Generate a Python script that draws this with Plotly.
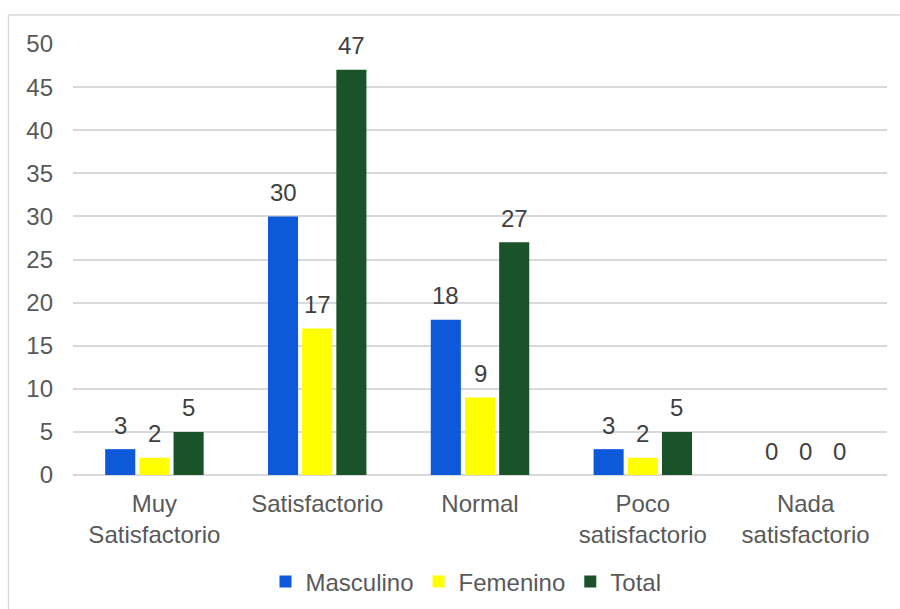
import plotly.graph_objects as go

categories = ["Muy<br>Satisfactorio", "Satisfactorio", "Normal", "Poco<br>satisfactorio", "Nada<br>satisfactorio"]
masculino = [3, 30, 18, 3, 0]
femenino = [2, 17, 9, 2, 0]
total = [5, 47, 27, 5, 0]
y_ticks = [0, 5, 10, 15, 20, 25, 30, 35, 40, 45, 50]

series = [("Masculino", masculino, "#0E58DA"), ("Femenino", femenino, "#FFFF00"), ("Total", total, "#1A5329")]

FONT = "Liberation Sans, Arial, sans-serif"
FS = 24
W, H = 900, 609
L, R, T, B = 73, 13, 44, 134
pw, ph = W - L - R, H - T - B
BARGAP, GROUPGAP = 0.37, 0.12

def px(x):
    return (x - L) / pw

def py(y):
    return (H - B - y) / ph

fig = go.Figure()
annotations = []
slot = pw / len(categories) * (1 - BARGAP) / len(series)
for i, (name, vals, col) in enumerate(series):
    fig.add_trace(go.Bar(
        x=categories, y=vals, name=name, marker=dict(color=col, line=dict(width=0)),
    ))
    for cat, v in zip(categories, vals):
        annotations.append(dict(
            x=cat, y=v, xref="x", yref="y", text=str(v), showarrow=False,
            xshift=(i - 1) * slot, yshift=24, yanchor="middle", xanchor="center",
            font=dict(color="#404040", size=FS, family=FONT),
        ))

fig.update_layout(
    width=W, height=H,
    margin=dict(l=L, r=R, t=T, b=B, autoexpand=False),
    paper_bgcolor="white", plot_bgcolor="white",
    barmode="group", bargap=BARGAP, bargroupgap=GROUPGAP,
    font=dict(family=FONT, size=FS, color="#595959"),
    showlegend=True,
    legend=dict(orientation="h", x=px(466), xanchor="center", y=py(582), yanchor="middle",
                font=dict(size=FS, color="#595959"), itemwidth=30, traceorder="normal"),
    xaxis=dict(showgrid=False, showline=False, zeroline=False, ticks="", automargin=False,
               tickfont=dict(size=FS, color="#595959"), ticklabelstandoff=12),
    yaxis=dict(range=[0, 50], tickvals=y_ticks, showgrid=True, gridcolor="#D9D9D9", gridwidth=1.5,
               zeroline=True, zerolinecolor="#D9D9D9", zerolinewidth=1.5, showline=False, ticks="",
               automargin=False,
               tickfont=dict(size=FS, color="#595959"), ticklabelstandoff=19),
    annotations=annotations,
    shapes=[dict(type="rect", xref="paper", yref="paper",
                 x0=px(8.5), x1=px(910), y0=py(15), y1=py(625),
                 line=dict(color="#D9D9D9", width=1.5), fillcolor="rgba(0,0,0,0)", layer="below")],
)

fig.write_html("out.html")
